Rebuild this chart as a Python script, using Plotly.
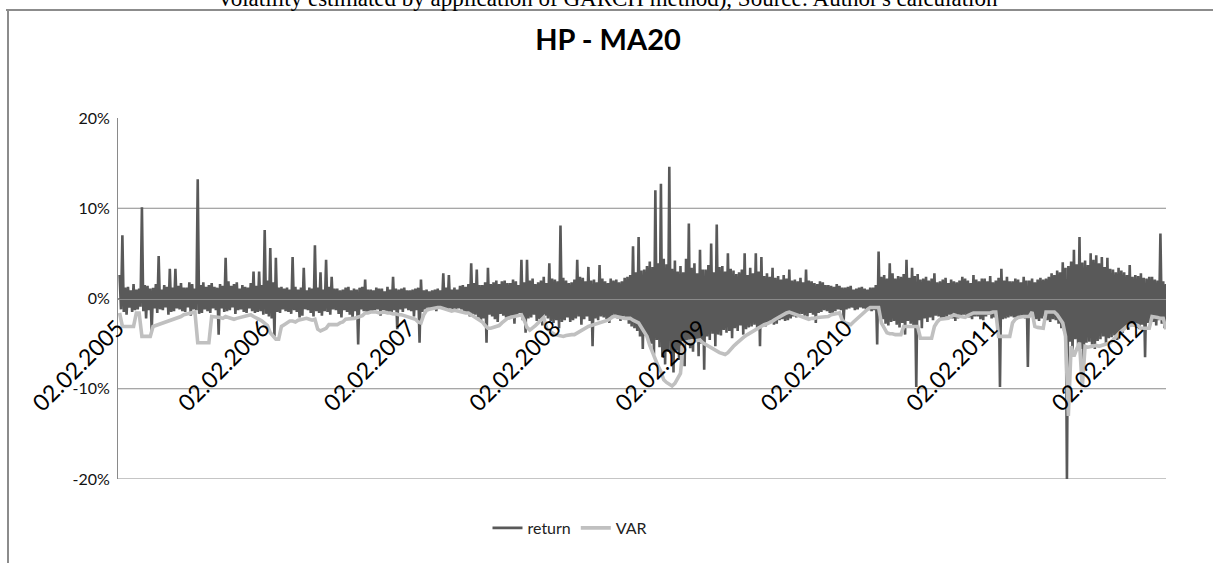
import plotly.graph_objects as go
import pandas as pd

# ---- data (% values) ----
start_date = "2005-02-02"

# weekly upper readings of the return series (start of each week)
ret_up = [
    2.6, 7.0, 1.2, 1.3, 0.9, 1.6, 1.0, 1.1, 10.1, 1.5,
    1.4, 1.1, 1.2, 1.6, 4.7, 1.0, 1.5, 1.3, 3.3, 1.2,
    3.3, 1.4, 1.7, 1.2, 1.2, 1.8, 1.6, 1.1, 13.2, 1.5,
    1.8, 1.3, 1.5, 1.7, 1.3, 1.2, 1.6, 1.4, 4.5, 1.9,
    1.4, 1.6, 1.8, 1.1, 1.5, 1.3, 1.2, 1.7, 3.0, 1.4,
    3.0, 1.5, 7.6, 2.0, 5.6, 1.8, 4.5, 1.2, 1.3, 1.1,
    1.2, 1.0, 4.6, 1.3, 1.0, 1.2, 3.4, 0.9, 1.2, 1.1,
    5.9, 1.2, 2.9, 1.0, 4.3, 1.3, 2.4, 1.1, 1.1, 0.9,
    1.0, 1.2, 1.3, 0.9, 1.1, 1.0, 1.2, 1.3, 2.1, 1.0,
    1.0, 0.9, 1.2, 1.1, 1.1, 0.8, 1.3, 1.0, 2.4, 1.1,
    1.0, 1.1, 1.2, 0.9, 0.9, 1.0, 1.1, 1.2, 2.1, 0.9,
    1.0, 0.8, 0.9, 1.0, 1.1, 0.9, 2.8, 1.2, 2.6, 1.0,
    1.2, 1.0, 1.4, 1.5, 1.3, 1.6, 3.9, 1.7, 3.2, 1.5,
    1.5, 1.8, 3.4, 1.6, 1.8, 2.0, 1.6, 1.9, 2.0, 1.7,
    1.7, 2.1, 1.9, 1.5, 4.3, 1.8, 4.3, 2.0, 2.2, 1.6,
    1.8, 2.0, 2.4, 1.7, 3.9, 2.2, 2.1, 1.9, 8.1, 2.3,
    2.0, 1.7, 1.8, 2.1, 4.3, 2.4, 2.3, 1.9, 3.5, 2.0,
    2.1, 1.8, 3.7, 2.2, 1.9, 1.7, 2.2, 2.0, 2.1, 1.8,
    1.9, 2.3, 2.4, 2.6, 5.8, 2.9, 6.8, 3.1, 3.2, 3.6,
    4.1, 3.5, 12.0, 3.9, 12.7, 4.4, 3.8, 14.6, 3.3, 4.2,
    3.0, 3.6, 2.9, 4.4, 8.3, 3.4, 3.9, 2.8, 5.4, 3.2,
    3.2, 3.7, 6.1, 2.9, 8.2, 3.5, 3.6, 3.0, 5.0, 3.3,
    3.1, 2.7, 2.9, 3.2, 5.0, 2.6, 3.4, 2.8, 5.0, 3.0,
    4.6, 2.5, 2.8, 2.4, 3.4, 2.3, 2.5, 2.1, 2.6, 2.2,
    3.2, 2.0, 2.1, 1.9, 2.3, 1.8, 3.2, 2.0, 1.9, 1.7,
    1.6, 1.9, 1.8, 1.5, 1.5, 1.4, 1.3, 1.6, 1.4, 1.2,
    1.2, 1.3, 1.4, 1.0, 1.1, 1.2, 1.3, 1.1, 1.0, 1.2,
    1.2, 1.5, 5.2, 2.4, 2.6, 2.2, 3.9, 2.8, 2.2, 2.5,
    2.4, 2.7, 4.3, 2.3, 3.4, 2.5, 2.7, 2.1, 2.2, 2.4,
    2.0, 2.2, 2.8, 1.8, 1.9, 2.1, 2.3, 1.7, 2.1, 1.9,
    1.8, 2.0, 2.4, 2.2, 2.0, 1.7, 2.6, 2.1, 1.9, 2.2,
    2.2, 1.9, 2.5, 1.8, 2.0, 2.3, 3.3, 2.0, 2.4, 1.9,
    1.9, 2.2, 2.1, 1.8, 2.4, 2.0, 2.0, 2.2, 1.8, 2.1,
    2.3, 2.1, 2.2, 2.4, 2.8, 2.6, 3.1, 2.9, 4.0, 3.4,
    3.6, 4.1, 5.4, 3.8, 6.8, 4.0, 4.2, 3.7, 5.0, 4.3,
    4.8, 3.9, 4.6, 3.5, 4.5, 3.3, 3.2, 2.9, 3.4, 3.1,
    2.9, 2.6, 3.7, 2.4, 2.6, 2.5, 2.8, 2.3, 2.2, 2.4,
    2.4, 2.1, 2.0, 7.2, 1.9, 1.6,
]

# weekly lower readings of the return series (middle of each week)
ret_down = [
    -1.2, -1.5, -1.8, -1.0, -1.5, -1.3, -1.2, -0.9, -1.4, -2.2,
    -1.3, -3.7, -1.1, -1.6, -1.2, -1.3, -1.0, -1.8, -1.5, -1.4,
    -1.1, -1.2, -1.4, -1.5, -1.0, -1.9, -1.2, -1.3, -1.7, -1.6,
    -1.2, -1.4, -1.6, -1.1, -1.3, -4.0, -1.1, -1.5, -1.4, -1.3,
    -1.0, -1.7, -1.3, -1.2, -1.5, -1.6, -1.1, -1.4, -1.6, -1.5,
    -1.4, -1.8, -1.7, -2.0, -2.2, -4.2, -1.5, -1.6, -1.2, -1.4,
    -1.5, -1.7, -1.3, -1.5, -2.1, -1.9, -1.2, -1.3, -1.6, -2.0,
    -1.4, -1.6, -1.9, -1.4, -1.5, -1.8, -1.2, -1.3, -1.7, -2.1,
    -1.3, -1.5, -1.8, -2.2, -1.4, -5.1, -1.2, -1.4, -1.6, -1.7,
    -1.5, -1.3, -1.2, -1.9, -1.3, -1.4, -1.5, -1.6, -1.3, -3.4,
    -1.2, -1.5, -1.1, -1.3, -1.4, -2.0, -1.3, -4.9, -1.5, -1.2,
    -1.0, -1.2, -1.1, -1.4, -0.9, -1.0, -1.2, -1.3, -1.1, -1.5,
    -1.3, -1.1, -1.2, -1.6, -1.5, -2.0, -1.7, -1.8, -2.1, -2.4,
    -2.2, -4.9, -1.8, -2.0, -2.3, -2.6, -1.7, -1.9, -2.1, -2.3,
    -1.9, -2.8, -2.0, -1.6, -2.4, -3.8, -2.2, -2.1, -1.8, -2.5,
    -2.3, -3.0, -1.9, -2.2, -2.5, -2.7, -2.4, -3.3, -2.6, -2.4,
    -2.1, -2.6, -2.4, -2.2, -2.0, -2.9, -2.3, -2.0, -2.5, -5.3,
    -2.2, -2.4, -2.0, -2.1, -2.3, -2.7, -1.9, -1.8, -2.2, -2.5,
    -2.0, -2.2, -2.8, -3.1, -3.3, -3.6, -4.2, -5.6, -4.1, -4.8,
    -5.0, -6.2, -4.6, -5.4, -6.5, -7.3, -5.9, -6.1, -8.2, -5.8,
    -6.8, -5.2, -7.5, -4.9, -5.5, -5.9, -4.7, -6.4, -5.0, -7.9,
    -4.2, -4.6, -3.9, -5.3, -4.0, -4.1, -3.5, -3.8, -3.6, -4.4,
    -3.3, -3.6, -3.0, -4.0, -3.4, -3.2, -3.1, -2.9, -3.5, -5.3,
    -3.0, -3.1, -2.7, -2.6, -2.9, -2.8, -2.4, -2.3, -2.5, -2.4,
    -2.2, -2.0, -2.1, -1.8, -1.7, -1.9, -2.0, -1.6, -1.8, -2.7,
    -1.6, -1.5, -1.3, -1.4, -1.6, -1.7, -1.4, -1.2, -1.3, -2.4,
    -1.2, -1.1, -1.0, -1.3, -1.2, -1.0, -1.1, -1.2, -1.3, -1.4,
    -1.3, -5.1, -2.1, -2.3, -2.8, -3.0, -2.6, -2.5, -2.9, -3.2,
    -2.7, -4.0, -2.5, -2.8, -3.1, -9.8, -2.4, -3.3, -2.2, -2.6,
    -2.1, -2.4, -1.9, -2.0, -2.3, -2.2, -2.0, -1.8, -2.2, -2.5,
    -2.2, -2.1, -1.8, -1.9, -2.1, -2.3, -2.0, -2.0, -2.3, -2.4,
    -2.0, -1.8, -2.2, -2.1, -1.9, -9.8, -2.3, -2.2, -2.1, -2.0,
    -2.1, -2.3, -2.0, -1.9, -2.2, -7.6, -1.9, -2.1, -2.3, -2.5,
    -2.2, -2.0, -2.4, -2.6, -2.3, -2.4, -2.8, -3.3, -3.6, -20.0,
    -4.8, -6.1, -4.5, -5.2, -5.6, -7.4, -4.9, -4.8, -5.1, -5.6,
    -4.7, -4.5, -4.2, -5.0, -4.4, -4.3, -4.1, -4.6, -3.9, -3.8,
    -3.2, -3.5, -3.0, -3.1, -3.3, -3.4, -2.9, -6.5, -2.7, -2.9,
    -2.6, -3.0, -2.4, -2.8, -3.3,
]

# weekly VAR readings
var_values = [
    -1.6, -3.1, -3.1, -3.1, -3.1, -3.1, -1.6, -1.6, -4.2, -4.2,
    -4.2, -4.2, -3.1, -3.0, -2.9, -2.8, -2.7, -2.6, -2.5, -2.4,
    -2.3, -2.1, -2.0, -1.8, -1.7, -1.6, -1.5, -1.5, -4.9, -4.9,
    -4.9, -4.9, -4.9, -2.0, -2.0, -2.1, -2.1, -2.2, -2.0, -2.1,
    -2.2, -2.3, -2.2, -2.1, -2.0, -1.9, -1.8, -1.8, -2.0, -2.1,
    -2.3, -2.5, -2.7, -3.0, -3.8, -4.2, -4.5, -4.5, -3.1, -2.9,
    -2.7, -2.5, -2.5, -2.6, -2.4, -2.3, -2.3, -2.2, -2.3, -2.4,
    -2.3, -3.4, -3.6, -3.5, -3.3, -2.9, -2.9, -2.8, -2.9, -2.7,
    -2.6, -2.3, -2.3, -2.2, -2.2, -2.1, -2.0, -1.9, -1.6, -1.6,
    -1.5, -1.5, -1.5, -1.6, -1.5, -1.5, -1.6, -1.6, -1.7, -1.7,
    -1.8, -1.8, -1.9, -2.0, -2.1, -2.2, -2.3, -2.6, -2.7, -1.8,
    -1.3, -1.2, -1.1, -1.0, -1.0, -1.0, -1.1, -1.2, -1.3, -1.4,
    -1.3, -1.4, -1.4, -1.5, -1.6, -1.6, -1.8, -2.0, -2.2, -2.3,
    -2.6, -3.0, -3.3, -3.3, -3.2, -3.1, -3.0, -2.7, -2.4, -2.2,
    -2.1, -2.0, -1.9, -1.8, -1.8, -2.4, -3.2, -3.5, -3.3, -3.0,
    -2.7, -2.4, -2.1, -3.3, -3.6, -3.8, -4.0, -4.1, -4.2, -4.2,
    -4.1, -4.0, -4.0, -4.0, -3.8, -3.6, -3.4, -3.2, -3.1, -3.0,
    -2.9, -2.8, -2.7, -2.6, -2.6, -2.4, -2.2, -2.0, -2.0, -2.1,
    -2.1, -2.2, -2.2, -2.2, -2.4, -2.6, -2.7, -3.2, -3.8, -4.2,
    -5.2, -6.0, -6.8, -7.5, -8.1, -9.0, -9.3, -9.5, -9.7, -9.4,
    -8.8, -8.3, -4.9, -4.8, -4.8, -4.7, -4.7, -4.6, -4.6, -4.9,
    -5.1, -5.3, -5.5, -5.7, -5.9, -6.0, -6.1, -6.2, -6.0, -5.6,
    -5.3, -5.0, -4.7, -4.4, -4.2, -4.0, -3.8, -3.6, -3.4, -3.2,
    -3.0, -2.9, -2.8, -2.7, -2.5, -2.3, -2.1, -1.9, -1.7, -1.6,
    -1.5, -1.6, -1.8, -1.9, -2.0, -2.1, -2.2, -2.3, -2.2, -2.2,
    -2.1, -2.1, -2.0, -2.0, -2.0, -1.8, -1.7, -1.6, -1.6, -2.4,
    -2.7, -2.8, -2.9, -2.6, -2.3, -2.0, -1.7, -1.4, -1.2, -1.0,
    -1.0, -1.0, -1.0, -2.7, -3.3, -3.8, -3.9, -3.9, -4.0, -4.0,
    -4.0, -3.1, -3.1, -3.1, -3.1, -3.1, -3.1, -4.4, -4.4, -4.4,
    -4.4, -4.4, -3.1, -2.6, -2.3, -2.3, -2.3, -2.2, -2.0, -1.8,
    -1.9, -2.0, -2.1, -2.1, -1.9, -1.7, -1.6, -1.6, -1.6, -1.6,
    -1.6, -1.6, -1.6, -1.5, -1.5, -4.2, -4.2, -4.2, -4.2, -4.2,
    -2.7, -2.3, -2.1, -2.0, -2.0, -2.0, -2.0, -1.5, -3.1, -3.2,
    -3.3, -3.3, -1.5, -1.5, -1.5, -1.5, -1.8, -2.3, -2.7, -4.2,
    -13.0, -5.3, -6.4, -5.6, -4.9, -9.8, -5.3, -5.4, -5.3, -5.3,
    -5.2, -5.3, -5.2, -5.1, -5.0, -4.9, -4.6, -4.2, -3.9, -3.6,
    -3.3, -3.1, -3.0, -2.9, -2.9, -3.0, -3.3, -3.3, -3.3, -3.3,
    -2.0, -2.0, -2.1, -2.2, -2.2, -3.4,
]

tick_years = [2005, 2006, 2007, 2008, 2009, 2010, 2011, 2012]
tick_dates = [f"{y}-02-02" for y in tick_years]
tick_labels = [f"02.02.{y}" for y in tick_years]
y_tick_values = [-20, -10, 0, 10, 20]
y_tick_labels = ["-20%", "-10%", "0%", "10%", "20%"]
grid_levels = [-20, -10, 0, 10]

# ---- assemble series ----
week_dates = pd.date_range(start_date, periods=len(ret_up), freq="7D")
mid_dates = week_dates[:len(ret_down)] + pd.Timedelta(hours=84)
ret_series = pd.concat([pd.Series(ret_up, index=week_dates),
                        pd.Series(ret_down, index=mid_dates)]).sort_index()
var_dates = week_dates[:len(var_values)]

# ---- geometry helpers (pixel -> paper) ----
W, H = 1213, 563
L, R, T, B = 118, 47, 118, 84
PW, PH = W - L - R, H - T - B


def px(x):
    return (x - L) / PW


def py(y):
    return (H - B - y) / PH


fig = go.Figure()
fig.add_trace(go.Scatter(x=ret_series.index, y=ret_series.values, mode="lines",
                         name="return", line=dict(color="#595959", width=2.6)))
fig.add_trace(go.Scatter(x=var_dates, y=var_values, mode="lines", name="VAR",
                         line=dict(color="#c0c0c0", width=3.6)))

shapes = []
for g in grid_levels:
    shapes.append(dict(type="line", xref="paper", yref="y", x0=0, x1=1, y0=g, y1=g,
                       line=dict(color="#8a8a8a", width=1), layer="below"))
# outer chart frame
shapes.append(dict(type="line", xref="paper", yref="paper", x0=px(6), x1=px(W + 5),
                   y0=py(10), y1=py(10), line=dict(color="#8c8c8c", width=2)))
shapes.append(dict(type="line", xref="paper", yref="paper", x0=px(8), x1=px(8),
                   y0=py(10), y1=py(H + 5), line=dict(color="#8c8c8c", width=2)))

fig.update_layout(
    width=W, height=H, autosize=False,
    margin=dict(l=L, r=R, t=T, b=B),
    paper_bgcolor="white", plot_bgcolor="white",
    title=dict(text="<b>HP - MA20</b>", x=608 / W, xanchor="center",
               y=1 - 40 / H, yanchor="middle", yref="container",
               font=dict(family="Lato", size=29, color="#000000")),
    xaxis=dict(type="date",
               range=[week_dates[0] - pd.Timedelta(days=4), week_dates[-1]],
               tickvals=tick_dates, ticktext=tick_labels, tickangle=-45,
               tickfont=dict(family="Lato", size=23, color="#000000"),
               showgrid=False, zeroline=False, showline=True,
               linecolor="#8a8a8a", linewidth=1, ticks="",
               ticklabelstandoff=6, ticklabelshift=-2,
               anchor="free", position=0.5),
    yaxis=dict(range=[-20, 20], tickvals=y_tick_values, ticktext=y_tick_labels,
               tickfont=dict(family="Lato", size=16, color="#111111"),
               showgrid=False, zeroline=False, showline=True,
               linecolor="#8a8a8a", linewidth=1, ticks="", ticklabelstandoff=4),
    shapes=shapes,
    showlegend=True,
    legend=dict(orientation="h", x=px(570), xanchor="center", y=py(528),
                yanchor="middle", itemwidth=30,
                font=dict(family="Lato", size=16, color="#222222"),
                bgcolor="rgba(0,0,0,0)"),
    annotations=[dict(
        text="Volatility estimated by application of GARCH method), Source: Author's calculation",
        xref="paper", yref="paper", x=px(607), y=py(-2), xanchor="center",
        yanchor="middle", showarrow=False,
        font=dict(family="Liberation Serif", size=23, color="#000000"))],
)

fig.write_html("out.html")
